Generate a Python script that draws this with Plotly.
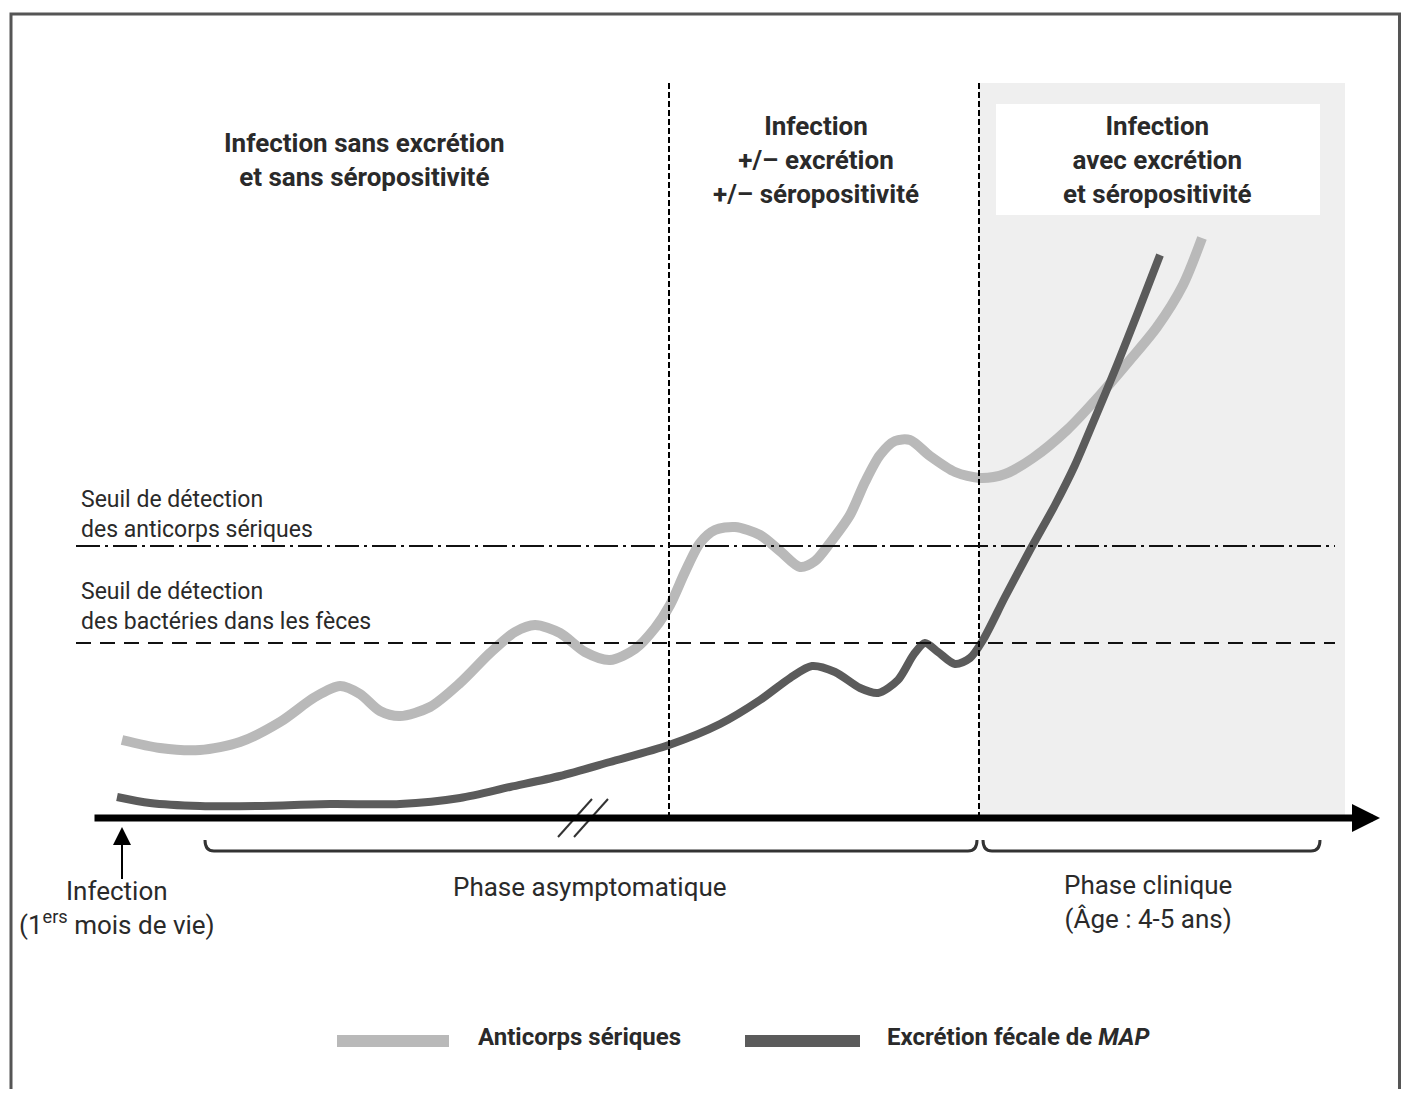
import plotly.graph_objects as go

# Schéma : évolution des anticorps sériques et de l'excrétion fécale de MAP
# Unités arbitraires : temps (x) et niveau (y)

temps_anticorps = [0.2, 4, 8, 12, 16, 19.5, 22, 24, 26, 28, 31, 34, 37, 39.5, 41.5, 44, 46.5, 49,
                   51.5, 53.5, 55, 56.5, 58, 59.5, 61.5, 64, 66, 68, 69.5, 71, 73, 74.5, 76, 77.5,
                   79, 81, 83.5, 86, 88.5, 91.3, 94.7, 98, 101, 103.7, 106.3, 108.2]
niveau_anticorps = [15.6, 14, 13.6, 15.2, 19.2, 24.2, 26.4, 24.8, 21.4, 20.4, 22.2, 27, 33, 37.2,
                    38.6, 37, 33.2, 31.6, 33.8, 38, 42.6, 49.2, 55, 57.6, 58.2, 56.6, 53.4, 50.2,
                    51.4, 55, 60.6, 67.2, 72.6, 75.4, 75.6, 72.4, 69.2, 68, 68.8, 72, 77.6, 84.6,
                    91.6, 98.2, 106.6, 116]

temps_excretion = [-0.3, 3, 8, 14, 21, 28, 34, 39, 44, 49, 54.9, 60, 64, 67, 69.2, 71.5, 74, 75.8,
                   77.8, 79.4, 80.5, 81.8, 83.5, 85, 86.3, 88.5, 91, 93.5, 95.5, 97.5, 99.7, 101.8, 104]
niveau_excretion = [4.2, 3, 2.4, 2.4, 2.8, 2.8, 4, 6.2, 8.4, 11.2, 14.6, 18.8, 23.6, 28, 30.4, 29.2,
                    26, 25, 27.6, 32.8, 35, 33.2, 30.8, 32, 35.6, 44.2, 53.6, 62.6, 70.6, 80, 90.6,
                    101.2, 112.6]

limites_phases = [54.9, 85.9]          # lignes verticales pointillées
seuil_anticorps = 54.4
seuil_bacteries = 35.0
fin_zone_clinique = 122.5
debut_asympto, fin_asympto = 8.5, 85.7
debut_clinique, fin_clinique = 86.3, 120

titres_phases = ["Infection sans excrétion<br>et sans séropositivité",
                 "Infection<br>+/– excrétion<br>+/– séropositivité",
                 "Infection<br>avec excrétion<br>et séropositivité"]
x_titres = [24.4, 69.6, 103.7]

COUL_CLAIR = "#b9b9b9"
COUL_FONCE = "#5b5b5b"
TXT = "#2a2a2a"
FONT = "Roboto, Arial, sans-serif"

fig = go.Figure()

# zone grise (phase clinique) + cadre blanc du titre
fig.add_shape(type="rect", x0=limites_phases[1], x1=fin_zone_clinique, y0=0, y1=147,
              fillcolor="#efefef", line_width=0, layer="below")
fig.add_shape(type="rect", x0=87.6, x1=120, y0=120.6, y1=142.8,
              fillcolor="white", line_width=0, layer="below")

# cadre général
fig.add_shape(type="rect", xref="paper", yref="paper", x0=0.00215, x1=0.9982, y0=-0.05, y1=0.99445,
              line=dict(color="#555555", width=3), fillcolor="rgba(0,0,0,0)")

# lignes verticales des phases
for xv in limites_phases:
    fig.add_shape(type="line", x0=xv, x1=xv, y0=0, y1=147.6,
                  line=dict(color="black", width=2, dash="6px,3px"))

# seuils de détection
fig.add_shape(type="line", x0=-4.4, x1=121.5, y0=seuil_anticorps, y1=seuil_anticorps,
              line=dict(color="#111111", width=2, dash="24px,5px,3px,5px"))
fig.add_shape(type="line", x0=-4.4, x1=121.5, y0=seuil_bacteries, y1=seuil_bacteries,
              line=dict(color="#111111", width=2, dash="15px,9px"))

# courbes
fig.add_trace(go.Scatter(x=temps_anticorps, y=niveau_anticorps, mode="lines",
                         line=dict(color=COUL_CLAIR, width=10, shape="spline", smoothing=0.8),
                         name="Anticorps sériques", showlegend=False))
fig.add_trace(go.Scatter(x=temps_excretion, y=niveau_excretion, mode="lines",
                         line=dict(color=COUL_FONCE, width=8, shape="spline", smoothing=0.8),
                         name="Excrétion fécale de MAP", showlegend=False))

# axe du temps (flèche épaisse)
fig.add_annotation(x=126, y=0, ax=-2.7, ay=0, xref="x", yref="y", axref="x", ayref="y",
                   showarrow=True, arrowhead=2, arrowwidth=7, arrowsize=0.8, arrowcolor="black",
                   text="")
# coupure //
for dx in (0, 1.6):
    fig.add_shape(type="line", x0=43.8 + dx, x1=47.2 + dx, y0=-3.8, y1=3.8,
                  line=dict(color="#333333", width=2))

# flèche infection
fig.add_annotation(x=0.2, y=-1.8, ax=0.2, ay=-12.5, xref="x", yref="y", axref="x", ayref="y",
                   showarrow=True, arrowhead=2, arrowwidth=2, arrowsize=1.8, arrowcolor="black",
                   text="")

# accolades
def accolade(x0, x1, y=-6.6, h=2.2, r=0.9):
    return (f"M {x0},{y + h} Q {x0},{y} {x0 + r},{y} L {x1 - r},{y} "
            f"Q {x1},{y} {x1},{y + h}")

fig.add_shape(type="path", path=accolade(debut_asympto, fin_asympto),
              line=dict(color="#333333", width=3))
fig.add_shape(type="path", path=accolade(debut_clinique, fin_clinique),
              line=dict(color="#333333", width=3))

# titres des phases
for txt, xt in zip(titres_phases, x_titres):
    fig.add_annotation(x=xt, y=131.7, text=f"<b>{txt}</b>", showarrow=False,
                       font=dict(family=FONT, size=26, color=TXT), align="center")

# libellés des seuils
fig.add_annotation(x=-4.1, y=60.7, text="Seuil de détection<br>des anticorps sériques",
                   showarrow=False, xanchor="left", align="left",
                   font=dict(family=FONT, size=23, color=TXT))
fig.add_annotation(x=-4.1, y=42.3, text="Seuil de détection<br>des bactéries dans les fèces",
                   showarrow=False, xanchor="left", align="left",
                   font=dict(family=FONT, size=23, color=TXT))

# libellés sous l'axe
fig.add_annotation(x=47, y=-13.8, text="Phase asymptomatique", showarrow=False,
                   font=dict(family=FONT, size=26, color=TXT))
fig.add_annotation(x=102.8, y=-16.8, text="Phase clinique<br>(Âge : 4-5 ans)", showarrow=False,
                   font=dict(family=FONT, size=26, color=TXT))
fig.add_annotation(x=-0.3, y=-18, text="Infection<br>(1<sup>ers</sup> mois de vie)",
                   showarrow=False, font=dict(family=FONT, size=26, color=TXT))

# légende
fig.add_shape(type="line", x0=21.7, x1=32.9, y0=-44.6, y1=-44.6,
              line=dict(color=COUL_CLAIR, width=12))
fig.add_shape(type="line", x0=62.5, x1=74, y0=-44.6, y1=-44.6,
              line=dict(color=COUL_FONCE, width=12))
fig.add_annotation(x=35.6, y=-43.8, text="<b>Anticorps sériques</b>", showarrow=False,
                   xanchor="left", font=dict(family=FONT, size=24, color=TXT))
fig.add_annotation(x=76.5, y=-43.8, text="<b>Excrétion fécale de <i>MAP</i></b>", showarrow=False,
                   xanchor="left", font=dict(family=FONT, size=24, color=TXT))

# la page ajoute une marge de 8 px : figure réduite et axes décalés en conséquence
fig.update_layout(
    width=1394, height=1081,
    margin=dict(t=0, l=0, r=0, b=0),
    paper_bgcolor="white", plot_bgcolor="white",
    xaxis=dict(range=[-11.2, 128.2], visible=False, fixedrange=True),
    yaxis=dict(range=[-54.2, 162.0], visible=False, fixedrange=True),
    showlegend=False,
)

fig.write_html("out.html")
